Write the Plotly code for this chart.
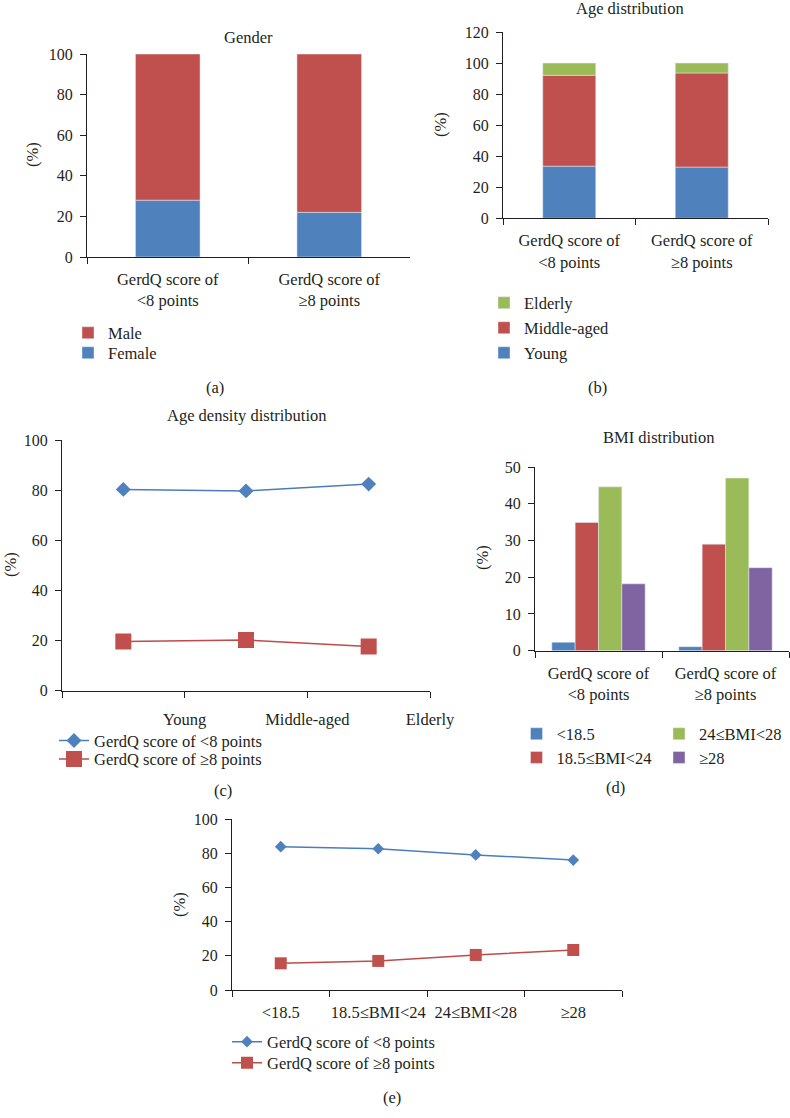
import plotly.graph_objects as go

# ---------------- data ----------------
groups = ["GerdQ score of<br>&lt;8 points", "GerdQ score of<br>≥8 points"]

gender_names = ["Female", "Male"]
gender_female = [28.0, 22.0]
gender_male = [72.0, 78.0]

age_names = ["Young", "Middle-aged", "Elderly"]
age_young = [33.6, 33.0]
age_middle = [58.5, 60.6]
age_elderly = [7.9, 6.4]

density_cats = ["Young", "Middle-aged", "Elderly"]
density_lt8 = [80.3, 79.7, 82.4]
density_ge8 = [19.6, 20.2, 17.6]

bmi_names = ["&lt;18.5", "18.5≤BMI&lt;24", "24≤BMI&lt;28", "≥28"]
bmi_lt8 = [2.3, 34.9, 44.6, 18.2]
bmi_ge8 = [1.1, 29.0, 47.0, 22.6]

bmi_cats = ["&lt;18.5", "18.5≤BMI&lt;24", "24≤BMI&lt;28", "≥28"]
bmi_density_lt8 = [83.8, 82.6, 79.0, 76.0]
bmi_density_ge8 = [15.6, 17.0, 20.5, 23.4]

series_names = ["GerdQ score of &lt;8 points", "GerdQ score of ≥8 points"]

# ---------------- style ----------------
BLUE = "#4F81BD"
RED = "#C0504D"
GREEN = "#9BBB59"
PURPLE = "#8064A2"
LBLUE = "#4A7EBB"
LRED = "#BE4B48"
TXT = "#231F20"
FONT = "Liberation Serif"
FS = 16.5
W, H = 790, 1118   # reference frame used for the paper fractions


def px(x):
    return min(1.0, max(0.0, x / W))


def py(y):
    return min(1.0, max(0.0, 1 - y / H))


fig = go.Figure()
legend_pos = {}   # legend id -> (left x px, centre y px) in reference pixels

# (a) Gender - stacked bars
fig.add_trace(go.Bar(x=groups, y=gender_female, name=gender_names[0], marker_color=BLUE,
                     width=0.4, offset=-0.2, xaxis="x", yaxis="y", legend="legend2"))
fig.add_trace(go.Bar(x=groups, y=gender_male, base=gender_female, name=gender_names[1],
                     marker_color=RED, width=0.4, offset=-0.2, xaxis="x", yaxis="y",
                     legend="legend"))
legend_pos["legend"] = (68, 333)
legend_pos["legend2"] = (68, 353)

# (b) Age distribution - stacked bars
base_mid = age_young
base_eld = [a + b for a, b in zip(age_young, age_middle)]
fig.add_trace(go.Bar(x=groups, y=age_young, name=age_names[0], marker_color=BLUE,
                     width=0.4, offset=-0.2, xaxis="x2", yaxis="y2", legend="legend5"))
fig.add_trace(go.Bar(x=groups, y=age_middle, base=base_mid, name=age_names[1], marker_color=RED,
                     width=0.4, offset=-0.2, xaxis="x2", yaxis="y2", legend="legend4"))
fig.add_trace(go.Bar(x=groups, y=age_elderly, base=base_eld, name=age_names[2], marker_color=GREEN,
                     width=0.4, offset=-0.2, xaxis="x2", yaxis="y2", legend="legend3"))
legend_pos["legend3"] = (484, 303)
legend_pos["legend4"] = (484, 328)
legend_pos["legend5"] = (484, 353)

# (c) Age density distribution - lines (points sit between the category ticks)
xc = [i + 0.5 for i in range(len(density_cats))]
fig.add_trace(go.Scatter(x=xc, y=density_lt8, name=series_names[0], mode="lines+markers",
                         line=dict(color=LBLUE, width=1.5),
                         marker=dict(symbol="diamond", size=11.5, color=BLUE),
                         xaxis="x3", yaxis="y3", legend="legend6"))
fig.add_trace(go.Scatter(x=xc, y=density_ge8, name=series_names[1], mode="lines+markers",
                         line=dict(color=LRED, width=1.5),
                         marker=dict(symbol="square", size=16, color=RED),
                         xaxis="x3", yaxis="y3", legend="legend7"))
legend_pos["legend6"] = (54, 740.7)
legend_pos["legend7"] = (54, 759.3)

# (d) BMI distribution - grouped bars
bmi_colors = [BLUE, RED, GREEN, PURPLE]
bmi_legends = ["legend8", "legend9", "legend10", "legend11"]
for i, nm in enumerate(bmi_names):
    fig.add_trace(go.Bar(x=groups, y=[bmi_lt8[i], bmi_ge8[i]], name=nm,
                         marker_color=bmi_colors[i], xaxis="x4", yaxis="y4",
                         legend=bmi_legends[i]))
legend_pos["legend8"] = (516.5, 734)
legend_pos["legend9"] = (516.5, 757.7)
legend_pos["legend10"] = (659, 734)
legend_pos["legend11"] = (659, 757.7)

# (e) BMI density - lines
fig.add_trace(go.Scatter(x=bmi_cats, y=bmi_density_lt8, name=series_names[0], mode="lines+markers",
                         line=dict(color=LBLUE, width=1.5),
                         marker=dict(symbol="diamond", size=9, color=BLUE),
                         xaxis="x5", yaxis="y5", legend="legend12"))
fig.add_trace(go.Scatter(x=bmi_cats, y=bmi_density_ge8, name=series_names[1], mode="lines+markers",
                         line=dict(color=LRED, width=1.5),
                         marker=dict(symbol="square", size=12, color=RED),
                         xaxis="x5", yaxis="y5", legend="legend13"))
legend_pos["legend12"] = (227, 1042)
legend_pos["legend13"] = (227, 1063)

axis_common = dict(showline=True, linecolor=TXT, linewidth=1, ticks="outside", ticklen=6,
                   tickcolor=TXT, tickwidth=1, showgrid=False, zeroline=False,
                   tickfont=dict(family=FONT, size=FS, color=TXT), fixedrange=True)


def xcat(dom, anchor, n):
    d = dict(axis_common)
    d.update(domain=dom, anchor=anchor, type="category", tickson="boundaries",
             range=[-0.5, n - 0.5], ticklabelstandoff=7, tickangle=0)
    return d


def yax(dom, anchor, rng, dtick):
    d = dict(axis_common)
    d.update(domain=dom, anchor=anchor, range=rng, dtick=dtick, tick0=0, ticklabelstandoff=4,
             tickfont=dict(family=FONT, size=16, color=TXT))
    return d


xc_ax = dict(axis_common)
xc_ax.update(domain=[px(62), px(430)], anchor="y3", range=[0, len(density_cats)],
             tickvals=list(range(len(density_cats) + 1)),
             ticktext=[""] + density_cats, ticklabelstandoff=7, tickangle=0)

layout_legends = {}
for lid, (lx, ly) in legend_pos.items():
    layout_legends[lid] = dict(font=dict(family=FONT, size=FS, color=TXT),
                               bgcolor="rgba(0,0,0,0)", xanchor="left", yanchor="middle",
                               x=px(lx), y=py(ly), itemclick=False, itemdoubleclick=False)

fig.update_layout(
    autosize=True, margin=dict(l=0, r=0, t=0, b=0, autoexpand=False),
    paper_bgcolor="white", plot_bgcolor="white", showlegend=True,
    barmode="group", bargap=0.265, bargroupgap=0,
    font=dict(family=FONT, size=FS, color=TXT),
    xaxis=xcat([px(87), px(410)], "y", 2),
    yaxis=yax([py(257), py(54)], "x", [0, 100], 20),
    xaxis2=xcat([px(503), px(768)], "y2", 2),
    yaxis2=yax([py(218.3), py(32)], "x2", [0, 120], 20),
    xaxis3=xc_ax,
    yaxis3=yax([py(690.7), py(440)], "x3", [0, 100], 20),
    xaxis4=xcat([px(535), px(789)], "y4", 2),
    yaxis4=yax([py(650.7), py(467)], "x4", [0, 50], 10),
    xaxis5=xcat([px(232), px(622)], "y5", 4),
    yaxis5=yax([py(990), py(819)], "x5", [0, 100], 20),
    **layout_legends,
)

ann = [
    ("Gender", 248, 37, 0), ("Age distribution", 630, 9, 0),
    ("Age density distribution", 247, 415, 0), ("BMI distribution", 658, 437, 0),
    ("(%)", 33, 155, -90), ("(%)", 440, 125, -90), ("(%)", 10, 565, -90),
    ("(%)", 482, 558, -90), ("(%)", 179, 905, -90),
    ("(a)", 215, 387, 0), ("(b)", 597, 387, 0), ("(c)", 223, 790, 0),
    ("(d)", 615, 787, 0), ("(e)", 392, 1097, 0),
]
for text, x, y, ang in ann:
    fig.add_annotation(text=text, x=px(x), y=py(y), xref="paper", yref="paper",
                       showarrow=False, xanchor="center", yanchor="middle", textangle=ang,
                       font=dict(family=FONT, size=FS, color=TXT))

fig.write_html(
    "out.html",
    config={"displayModeBar": False, "responsive": True},
    default_width="100vw", default_height="100vh",
    post_script=("document.documentElement.style.margin='0';"
                 "document.body.style.margin='0';document.body.style.overflow='hidden';"
                 "document.documentElement.style.overflow='hidden';"
                 "Plotly.Plots.resize(document.getElementById('{plot_id}'));"),
)
